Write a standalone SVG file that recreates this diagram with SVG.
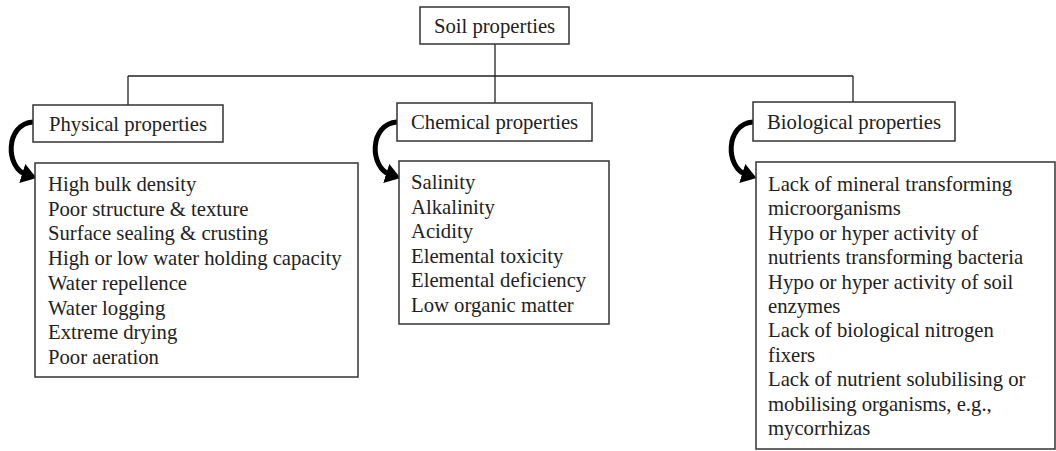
<svg xmlns="http://www.w3.org/2000/svg" width="1056" height="451" viewBox="0 0 1056 451">
<style>
.box{fill:#fff;stroke:#333;stroke-width:1.5}
.t{font-family:"Liberation Serif","Times New Roman",serif;font-size:20.7px;fill:#222}
.ln{fill:none;stroke:#222;stroke-width:1.3}
.arc{fill:none;stroke:#000;stroke-width:5}
</style>
<defs>
<marker id="ah" markerWidth="4" markerHeight="4" refX="1" refY="2" orient="auto" markerUnits="strokeWidth">
<path d="M0,0 L3,2 L0,4 z" fill="#000"/>
</marker>
</defs>
<g id="connectors">
<path class="ln" d="M495,44 V103"/>
<path class="ln" d="M128,76 H853"/>
<path class="ln" d="M128,76 V105"/>
<path class="ln" d="M853,76 V102"/>
<path class="arc" d="M33,122 C5,124 5,168 27,175" marker-end="url(#ah)"/>
<path class="arc" d="M397,122 C369,124 369,168 391,175" marker-end="url(#ah)"/>
<path class="arc" d="M753,122 C725,124 725,168 747,175" marker-end="url(#ah)"/>
</g>
<g id="soil">
<rect class="box" x="420" y="7" width="149" height="37"/>
<text class="t" x="494.5" y="33" text-anchor="middle">Soil properties</text>
</g>
<g id="physical">
<rect class="box" x="33" y="105" width="190" height="37"/>
<text class="t" x="49" y="131">Physical properties</text>
</g>
<g id="chemical">
<rect class="box" x="397" y="103" width="195" height="38"/>
<text class="t" x="411" y="129">Chemical properties</text>
</g>
<g id="biological">
<rect class="box" x="753" y="102" width="202" height="39"/>
<text class="t" x="767" y="129">Biological properties</text>
</g>
<g id="physical-list">
<rect class="box" x="35" y="163" width="323" height="214"/>
<text class="t">
<tspan x="48" y="191">High bulk density</tspan>
<tspan x="48" y="215.7">Poor structure &amp; texture</tspan>
<tspan x="48" y="240.4">Surface sealing &amp; crusting</tspan>
<tspan x="48" y="265.1">High or low water holding capacity</tspan>
<tspan x="48" y="289.8">Water repellence</tspan>
<tspan x="48" y="314.5">Water logging</tspan>
<tspan x="48" y="339.2">Extreme drying</tspan>
<tspan x="48" y="363.9">Poor aeration</tspan>
</text>
</g>
<g id="chemical-list">
<rect class="box" x="399" y="161" width="210" height="163"/>
<text class="t">
<tspan x="411" y="189">Salinity</tspan>
<tspan x="411" y="213.5">Alkalinity</tspan>
<tspan x="411" y="238">Acidity</tspan>
<tspan x="411" y="262.5">Elemental toxicity</tspan>
<tspan x="411" y="287">Elemental deficiency</tspan>
<tspan x="411" y="311.5">Low organic matter</tspan>
</text>
</g>
<g id="biological-list">
<rect class="box" x="756" y="162" width="299" height="287"/>
<text class="t">
<tspan x="768" y="191">Lack of mineral transforming</tspan>
<tspan x="768" y="215.4">microorganisms</tspan>
<tspan x="768" y="239.8">Hypo or hyper activity of</tspan>
<tspan x="768" y="264.2">nutrients transforming bacteria</tspan>
<tspan x="768" y="288.6">Hypo or hyper activity of soil</tspan>
<tspan x="768" y="313">enzymes</tspan>
<tspan x="768" y="337.4">Lack of biological nitrogen</tspan>
<tspan x="768" y="361.8">fixers</tspan>
<tspan x="768" y="386.2">Lack of nutrient solubilising or</tspan>
<tspan x="768" y="410.6">mobilising organisms, e.g.,</tspan>
<tspan x="768" y="435">mycorrhizas</tspan>
</text>
</g>
</svg>
